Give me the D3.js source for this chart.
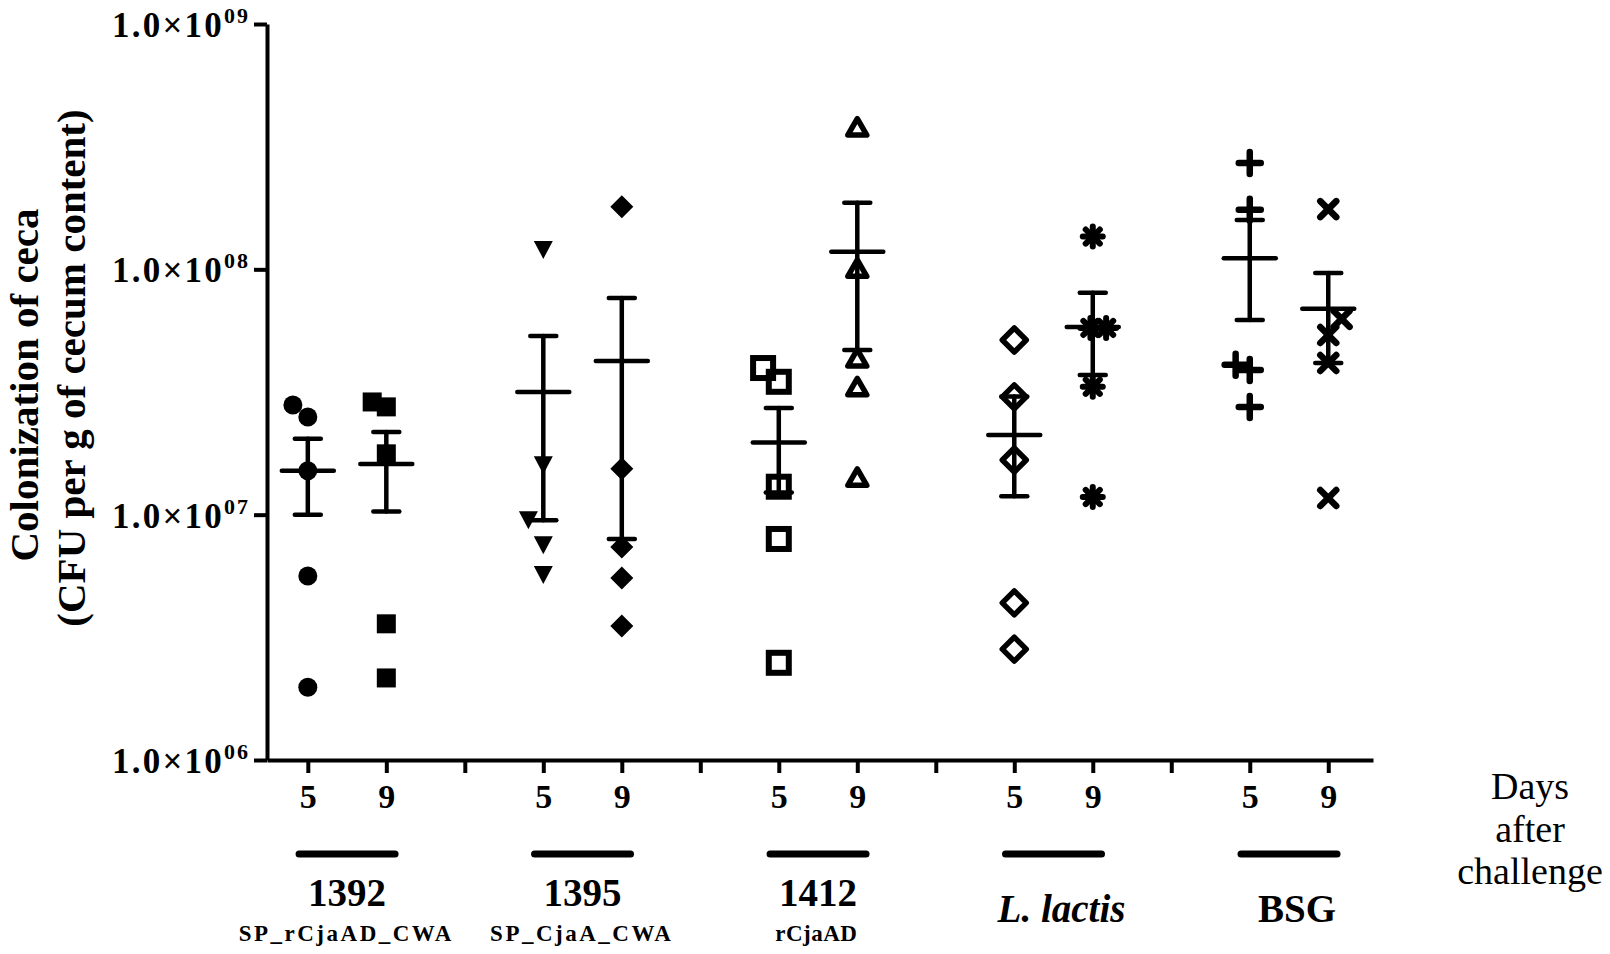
<!DOCTYPE html>
<html><head><meta charset="utf-8">
<script src="https://cdn.jsdelivr.net/npm/d3@7"></script>
<style>body{margin:0;background:#fff} svg{display:block}</style>
</head><body><svg id="c" width="1610" height="954"></svg>
<script>
// ---------- data ----------
const groups = ["1392","1395","1412","L. lactis","BSG"];
const subLabels = ["SP_rCjaAD_CWA","SP_CjaA_CWA","rCjaAD","",""];
const days = ["5","9"];
const xTickLabels = ["5","9","","5","9","","5","9","","5","9","","5","9"];
const yTickValues = [1e6,1e7,1e8,1e9];
const yTickExponents = ["06","07","08","09"];
const yTitle = ["Colonization of ceca","(CFU per g of cecum content)"];
const xTitle = ["Days","after","challenge"];

// individual CFU values (per group, per day)
const v1392d5 = [2.80e7, 2.50e7, 1.51e7, 5.62e6, 1.98e6];
const v1392d9 = [2.88e7, 2.75e7, 1.77e7, 3.59e6, 2.16e6];
const v1395d5 = [1.20e8, 1.59e7, 9.5e6, 7.5e6, 5.68e6];
const v1395d9 = [1.80e8, 1.54e7, 7.38e6, 5.52e6, 3.52e6];
const v1412d5 = [3.96e7, 3.48e7, 1.30e7, 7.96e6, 2.49e6];
const v1412d9 = [3.80e8, 1.01e8, 4.35e7, 3.32e7, 1.42e7];
const vLacd5  = [5.15e7, 3.02e7, 1.67e7, 4.37e6, 2.83e6];
const vLacd9  = [1.36e8, 5.77e7, 5.77e7, 3.32e7, 1.18e7];
const vBsgd5  = [2.71e8, 1.75e8, 4.08e7, 3.89e7, 2.75e7];
const vBsgd9  = [1.76e8, 6.28e7, 5.40e7, 4.15e7, 1.17e7];

// horizontal scatter offsets (fraction of one category step)
const j1392d5 = [-0.19,0,0,0,0];
const j1392d9 = [-0.18,0,0,0,0];
const j1395d5 = [0,0,-0.19,0,0];
const j1395d9 = [0,0,0,0,0];
const j1412d5 = [-0.2,0,0,0,0];
const j1412d9 = [0,0,0,0,0];
const jLacd5  = [0,0,0,0,0];
const jLacd9  = [0,-0.03,0.17,0,0];
const jBsgd5  = [0,0,-0.18,0,0];
const jBsgd9  = [0,0.17,0,0,0];

// mean and SEM limits per series
const means = [1.51e7, 1.61e7, 3.16e7, 4.23e7, 1.97e7, 1.18e8, 2.11e7, 5.82e7, 1.11e8, 6.90e7];
const upper = [2.04e7, 2.17e7, 5.35e7, 7.65e7, 2.72e7, 1.87e8, 3.03e7, 8.03e7, 1.59e8, 9.67e7];
const lower = [1.00e7, 1.03e7, 9.5e6, 7.96e6, 1.23e7, 4.69e7, 1.19e7, 3.71e7, 6.22e7, 4.15e7];

const seriesValues = [v1392d5,v1392d9,v1395d5,v1395d9,v1412d5,v1412d9,vLacd5,vLacd9,vBsgd5,vBsgd9];
const seriesJitter = [j1392d5,j1392d9,j1395d5,j1395d9,j1412d5,j1412d9,jLacd5,jLacd9,jBsgd5,jBsgd9];
const markers = ["circle","square","triDown","diamond","squareOpen","triOpen","diamondOpen","asterisk","plus","cross"];

// ---------- chart ----------
const FONT = "'Liberation Serif','Times New Roman',Times,serif";
const svg = d3.select("#c");
const x = d3.scaleLinear().domain([-0.52, 13.57]).range([267, 1373]);
const y = d3.scaleLog().domain([1e6, 1e9]).range([760, 24]);
const slotOf = i => Math.floor(i/2)*3 + (i%2);

// y axis
const ya = svg.append("g").attr("transform","translate(267,0)")
  .call(d3.axisLeft(y).tickValues(yTickValues).tickSize(13).tickSizeOuter(0).tickFormat(""));
ya.select(".domain").attr("stroke","#000").attr("stroke-width",4);
ya.selectAll(".tick line").attr("stroke","#000").attr("stroke-width",4);
ya.selectAll(".tick text").remove();
yTickValues.forEach((v,i)=>{
  const t = svg.append("text").attr("x",250).attr("y",y(v)+13)
    .attr("text-anchor","end").attr("font-family",FONT).attr("font-weight","bold")
    .attr("font-size",35).attr("letter-spacing",2.2).attr("fill","#000");
  t.append("tspan").text("1.0\u00d710");
  t.append("tspan").attr("dy",-14).attr("font-size",22).attr("letter-spacing",2).text(yTickExponents[i]);
});

// x axis
const xa = svg.append("g").attr("transform","translate(0,760)")
  .call(d3.axisBottom(x).tickValues(d3.range(14)).tickSize(13).tickSizeOuter(0)
        .tickFormat(i => xTickLabels[i]));
xa.select(".domain").attr("stroke","#000").attr("stroke-width",4);
xa.selectAll(".tick line").attr("stroke","#000").attr("stroke-width",4);
xa.selectAll(".tick text").attr("y",48).attr("dy",0)
  .attr("font-family",FONT).attr("font-weight","bold").attr("font-size",34).attr("fill","#000");

// y title
yTitle.forEach((s,i)=>{
  const bx = i===0 ? 38 : 85, cy = i===0 ? 385 : 368;
  svg.append("text").attr("transform",`translate(${bx},${cy}) rotate(-90)`)
    .attr("text-anchor","middle").attr("font-family",FONT).attr("font-weight","bold")
    .attr("font-size",41).attr("fill","#000").text(s);
});

// x title
xTitle.forEach((s,i)=>{
  svg.append("text").attr("x",1530).attr("y",799 + i*42.5).attr("text-anchor","middle")
    .attr("font-family",FONT).attr("font-size",38).attr("fill","#000").text(s);
});

// group bars + labels
groups.forEach((gname,g)=>{
  const cx = (x(g*3) + x(g*3+1))/2;
  svg.append("line").attr("x1",cx-48).attr("x2",cx+48).attr("y1",854).attr("y2",854)
    .attr("stroke","#000").attr("stroke-width",7).attr("stroke-linecap","round");
  const hasSub = subLabels[g] !== "";
  const t = svg.append("text").attr("x",cx + (hasSub?0:8)).attr("y",hasSub?906:922)
    .attr("text-anchor","middle").attr("font-family",FONT).attr("font-weight","bold")
    .attr("font-size",39).attr("fill","#000").text(gname);
  if (gname === "L. lactis") t.attr("font-style","italic");
  if (hasSub) {
    const ls = g===2 ? 0.5 : 2.5;
    svg.append("text").attr("x",cx-2+ls/2).attr("y",941).attr("text-anchor","middle")
      .attr("font-family",FONT).attr("font-weight","bold").attr("font-size",23)
      .attr("letter-spacing",ls).attr("fill","#000").text(subLabels[g]);
  }
});

// markers
function marker(sel, type, cx, cy){
  const g = sel.append("g").attr("transform",`translate(${cx},${cy})`);
  const ln = (x1,y1,x2,y2,w)=>g.append("line").attr("x1",x1).attr("y1",y1).attr("x2",x2).attr("y2",y2)
      .attr("stroke","#000").attr("stroke-width",w).attr("stroke-linecap","round");
  switch(type){
    case "circle": g.append("circle").attr("r",9.5).attr("fill","#000"); break;
    case "square": g.append("rect").attr("x",-9.5).attr("y",-9.5).attr("width",19).attr("height",19).attr("fill","#000"); break;
    case "triDown": g.append("path").attr("d","M-9.5,-9L9.5,-9L0,9Z").attr("fill","#000"); break;
    case "diamond": g.append("path").attr("d","M0,-11.5L11.5,0L0,11.5L-11.5,0Z").attr("fill","#000"); break;
    case "squareOpen": g.append("rect").attr("x",-10).attr("y",-10).attr("width",20).attr("height",20)
        .attr("fill","none").attr("stroke","#000").attr("stroke-width",6); break;
    case "triOpen": g.append("path").attr("d","M0,-8.5L9.5,8L-9.5,8Z").attr("fill","none")
        .attr("stroke","#000").attr("stroke-width",5.5).attr("stroke-linejoin","round"); break;
    case "diamondOpen": g.append("path").attr("d","M0,-12L12,0L0,12L-12,0Z").attr("fill","none")
        .attr("stroke","#000").attr("stroke-width",5.5).attr("stroke-linejoin","round"); break;
    case "asterisk":
      [0,45,90,135].forEach(a=>{const r=10,c=Math.cos(a*Math.PI/180)*r,s=Math.sin(a*Math.PI/180)*r; ln(-c,-s,c,s,6);});
      g.append("circle").attr("r",7).attr("fill","#000"); break;
    case "plus": ln(-11,0,11,0,6.5); ln(0,-11,0,11,6.5); break;
    case "cross": ln(-8,-8,8,8,6.5); ln(-8,8,8,-8,6.5); break;
  }
}

const step = x(1) - x(0);
const pts = svg.append("g");
seriesValues.forEach((vals,i)=>{
  const sx = x(slotOf(i));
  vals.forEach((v,k)=> marker(pts, markers[i], sx + seriesJitter[i][k]*step, y(v)));
});

// mean + SEM
const eb = svg.append("g").attr("stroke","#000").attr("stroke-linecap","round");
means.forEach((m,i)=>{
  const sx = x(slotOf(i));
  eb.append("line").attr("x1",sx).attr("x2",sx).attr("y1",y(upper[i])).attr("y2",y(lower[i])).attr("stroke-width",4.5);
  eb.append("line").attr("x1",sx-13).attr("x2",sx+13).attr("y1",y(upper[i])).attr("y2",y(upper[i])).attr("stroke-width",4.5);
  eb.append("line").attr("x1",sx-13).attr("x2",sx+13).attr("y1",y(lower[i])).attr("y2",y(lower[i])).attr("stroke-width",4.5);
  eb.append("line").attr("x1",sx-26).attr("x2",sx+26).attr("y1",y(m)).attr("y2",y(m)).attr("stroke-width",4.5);
});
</script></body></html>
